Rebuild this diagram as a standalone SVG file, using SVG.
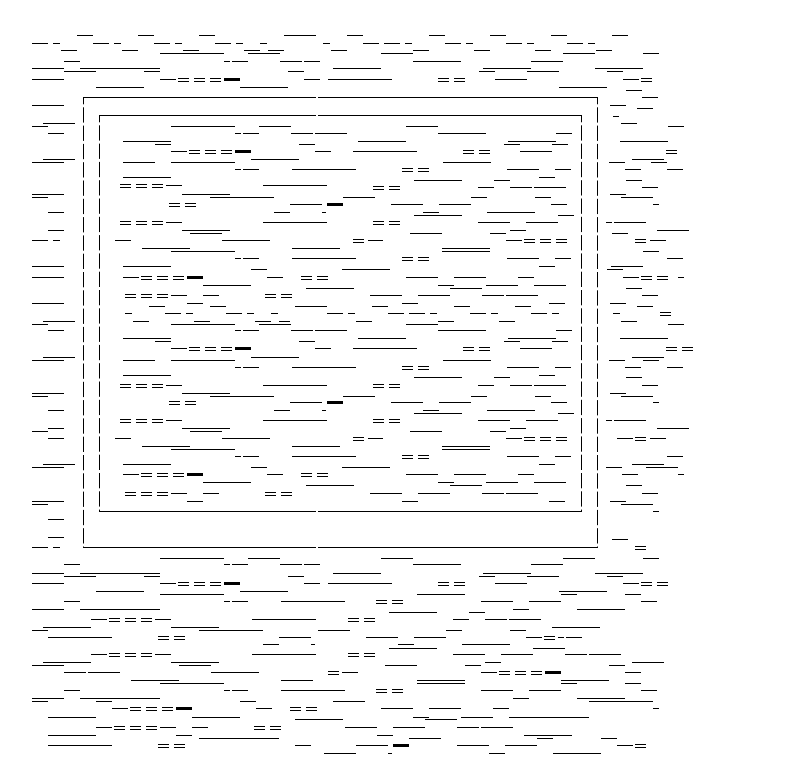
<svg xmlns="http://www.w3.org/2000/svg" width="792" height="784" viewBox="0 0 792 784">
<defs>
<style>
path{fill:none;stroke:#000;stroke-width:1}
.v{stroke-dasharray:15.3 3;stroke-dashoffset:8}
.k{stroke-width:3}
</style>
<path id="q" d="M0 -1H11M0 2H11"/>
<path id="t" class="k" d="M0 0H16"/>
</defs>
<rect width="792" height="784" fill="#fff"/>
<g id="frame">
<path d="M83 97.5H316M318 97.5H598M99 115.5H316M318 115.5H582M99 511.5H316M318 511.5H582M83 547.5H316M318 547.5H598"/>
<path class="v" d="M83.5 97V548M99.5 115V512M581.5 115V512M597.5 97V548"/>
</g>
<g id="rules">
<path d="M77 35.5H93M138 35.5H154M199 35.5H215M284 35.5H316M347 35.5H363M429 35.5H445M490 35.5H506M551 35.5H567M612 35.5H628"/>
<path d="M32 43.5H48M53 43.5H60M93 43.5H109M114 43.5H121M154 43.5H170M175 43.5H182M215 43.5H231M236 43.5H243M260 43.5H267M323 43.5H330M363 43.5H379M384 43.5H400M405 43.5H412M445 43.5H461M466 43.5H473M506 43.5H522M527 43.5H534M567 43.5H583M588 43.5H595"/>
<path d="M61 50.5H77M122 50.5H138M183 50.5H199M244 50.5H260M268 50.5H284M331 50.5H347M413 50.5H429M474 50.5H490M535 50.5H551M596 50.5H612"/>
<path d="M160 53.5H224M248 53.5H280M381 53.5H413M563 53.5H595M643 53.5H659"/>
<path d="M64 61.5H80M224 61.5H230M232 61.5H248M280 61.5H302M304 61.5H320M413 61.5H461M531 61.5H563"/>
<path d="M32 68.5H64M80 68.5H160M333 68.5H381M483 68.5H531M595 68.5H643"/>
<path d="M64 71.5H96M144 71.5H160M288 71.5H304M479 71.5H495M527 71.5H559M607 71.5H623"/>
<path d="M32 79.5H64M160 79.5H176M304 79.5H320M328 79.5H392M495 79.5H527M623 79.5H639"/>
<path d="M96 87.5H144M240 87.5H288M559 87.5H607M626 90.5H642M642 97.5H658M32 105.5H64M610 105.5H626M637 108.5H653M613 116.5H619"/>
<path d="M43 123.5H75M621 123.5H637"/>
<path d="M32 126.5H48M171 126.5H235M259 126.5H291M406 126.5H438M668 126.5H684"/>
<path d="M48 133.5H64M235 133.5H241M243 133.5H259M291 133.5H313M315 133.5H347M438 133.5H486M556 133.5H572"/>
<path d="M123 141.5H171M358 141.5H406M508 141.5H556M620 141.5H668"/>
<path d="M155 144.5H171M299 144.5H315M504 144.5H520M552 144.5H568"/>
<path d="M171 151.5H187M315 151.5H331M353 151.5H417M520 151.5H552"/>
<path d="M43 159.5H75M251 159.5H299M632 159.5H664"/>
<path d="M32 162.5H64M123 162.5H155M171 162.5H235M443 162.5H491M609 162.5H625M651 162.5H667"/>
<path d="M235 169.5H241M243 169.5H259M292 169.5H356M507 169.5H539M555 169.5H571M625 169.5H641M667 169.5H683"/>
<path d="M123 177.5H171M539 177.5H555M414 180.5H462M494 180.5H510M626 180.5H642"/>
<path d="M166 185.5H182M263 185.5H327M478 187.5H494M510 187.5H532M534 187.5H566M642 187.5H658"/>
<path d="M32 194.5H64M182 194.5H230M610 194.5H626"/>
<path d="M32 197.5H48M210 197.5H274M343 197.5H375M471 197.5H487M535 197.5H551M621 197.5H653"/>
<path d="M290 204.5H322M391 204.5H423M439 204.5H471M551 204.5H567M653 204.5H659"/>
<path d="M48 212.5H64M274 212.5H290M322 212.5H326M423 212.5H439M487 212.5H535M414 215.5H462M558 215.5H574"/>
<path d="M166 222.5H182M263 222.5H327M478 222.5H510M526 222.5H558M606 222.5H612M614 222.5H646"/>
<path d="M48 230.5H64M182 230.5H230M510 230.5H526M657 230.5H689"/>
<path d="M190 233.5H222M410 233.5H442M490 233.5H506M612 233.5H628"/>
<path d="M32 240.5H48M53 240.5H60M115 240.5H131M222 240.5H270M368 240.5H383M506 240.5H522M650 240.5H666"/>
<path d="M142 248.5H190M292 248.5H340M442 248.5H490M171 251.5H235M442 251.5H490M643 251.5H659"/>
<path d="M235 258.5H241M243 258.5H259M292 258.5H356M507 258.5H539M555 258.5H571M667 258.5H683"/>
<path d="M32 266.5H64M123 266.5H171M539 266.5H555M611 266.5H643M251 269.5H267M342 269.5H390M607 269.5H623"/>
<path d="M32 277.5H64M123 277.5H139M267 277.5H283M406 277.5H438M454 277.5H486M518 277.5H534M623 277.5H639M678 277.5H684"/>
<path d="M203 285.5H251M438 285.5H454M486 285.5H518M534 285.5H566M306 288.5H354M450 288.5H482M626 288.5H642"/>
<path d="M171 295.5H187M203 295.5H219M370 295.5H402M418 295.5H450M482 295.5H504M506 295.5H538M642 295.5H658"/>
<path d="M32 303.5H64M187 303.5H203M402 303.5H418M549 303.5H565M610 303.5H626"/>
<path d="M149 306.5H165M210 306.5H226M295 306.5H327M372 306.5H388M454 306.5H470M515 306.5H531M637 306.5H653"/>
<path d="M125 313.5H132M165 313.5H181M186 313.5H193M226 313.5H242M247 313.5H254M271 313.5H278M327 313.5H343M348 313.5H355M388 313.5H404M409 313.5H425M430 313.5H437M470 313.5H486M491 313.5H498M531 313.5H547M552 313.5H559M613 313.5H620"/>
<path d="M43 321.5H75M133 321.5H149M194 321.5H210M255 321.5H271M279 321.5H290M356 321.5H372M438 321.5H454M499 321.5H515M621 321.5H637"/>
<path d="M32 324.5H48M171 324.5H235M259 324.5H291M406 324.5H438M668 324.5H684"/>
<path d="M48 330.5H64M235 330.5H241M243 330.5H259M291 330.5H313M315 330.5H347M438 330.5H486M556 330.5H572"/>
<path d="M123 338.5H171M358 338.5H406M508 338.5H556M620 338.5H668"/>
<path d="M155 341.5H171M299 341.5H315M504 341.5H520M552 341.5H568"/>
<path d="M171 348.5H187M315 348.5H331M353 348.5H417M520 348.5H552"/>
<path d="M43 357.5H75M251 357.5H299M632 357.5H664"/>
<path d="M32 360.5H64M123 360.5H155M171 360.5H235M443 360.5H491M609 360.5H625M643 360.5H659"/>
<path d="M235 367.5H241M243 367.5H259M292 367.5H356M507 367.5H539M555 367.5H571M625 367.5H641M667 367.5H683"/>
<path d="M123 375.5H171M539 375.5H555M414 377.5H462M494 377.5H510M626 377.5H642"/>
<path d="M166 385.5H182M263 385.5H327M478 385.5H494M510 385.5H532M534 385.5H566M642 385.5H658"/>
<path d="M32 393.5H64M182 393.5H230M610 393.5H626"/>
<path d="M32 396.5H48M210 396.5H274M343 396.5H375M471 396.5H487M535 396.5H551M621 396.5H653"/>
<path d="M290 402.5H322M391 402.5H423M439 402.5H471M551 402.5H567M653 402.5H659"/>
<path d="M48 410.5H64M274 410.5H290M322 410.5H326M423 410.5H439M487 410.5H535M414 413.5H462M558 413.5H574"/>
<path d="M166 420.5H182M263 420.5H327M478 420.5H510M526 420.5H558M606 420.5H612M614 420.5H646"/>
<path d="M48 428.5H64M182 428.5H230M510 428.5H526M657 428.5H689"/>
<path d="M32 431.5H48M190 431.5H222M410 431.5H442M490 431.5H506"/>
<path d="M48 438.5H64M115 438.5H131M222 438.5H270M368 438.5H383M506 438.5H522M617 438.5H633M650 438.5H666"/>
<path d="M142 446.5H190M292 446.5H340M442 446.5H490M171 449.5H235M442 449.5H490"/>
<path d="M235 456.5H241M243 456.5H259M292 456.5H356M507 456.5H539M555 456.5H571M667 456.5H683"/>
<path d="M43 464.5H75M123 464.5H171M539 464.5H555M632 464.5H664"/>
<path d="M32 467.5H64M251 467.5H267M342 467.5H390M606 467.5H622M646 467.5H678"/>
<path d="M123 474.5H139M267 474.5H283M406 474.5H438M454 474.5H486M518 474.5H534M622 474.5H638M678 474.5H684"/>
<path d="M203 482.5H251M438 482.5H454M486 482.5H518M534 482.5H566M306 485.5H354M450 485.5H482M626 485.5H642"/>
<path d="M171 493.5H187M203 493.5H219M370 493.5H402M418 493.5H450M482 493.5H504M506 493.5H538M642 493.5H658"/>
<path d="M32 501.5H64M187 501.5H203M402 501.5H418M549 501.5H565M610 501.5H626M32 504.5H48M621 504.5H653"/>
<path d="M653 511.5H659M48 519.5H64M48 537.5H64M612 539.5H628M32 547.5H48M53 547.5H60"/>
<path d="M160 558.5H224M248 558.5H280M381 558.5H413M563 558.5H595M643 558.5H659"/>
<path d="M64 564.5H80M224 564.5H230M232 564.5H248M280 564.5H302M304 564.5H320M413 564.5H461M531 564.5H563"/>
<path d="M32 573.5H64M80 573.5H160M333 573.5H381M483 573.5H531M595 573.5H643"/>
<path d="M64 576.5H96M144 576.5H160M288 576.5H304M479 576.5H495M527 576.5H559M607 576.5H623"/>
<path d="M32 583.5H64M160 583.5H176M304 583.5H320M328 583.5H392M495 583.5H527M623 583.5H639"/>
<path d="M96 591.5H144M240 591.5H288M559 591.5H607M160 594.5H224M417 594.5H465M561 594.5H577M625 594.5H641"/>
<path d="M64 601.5H80M224 601.5H230M232 601.5H248M281 601.5H345M481 601.5H513M529 601.5H561M641 601.5H657"/>
<path d="M32 609.5H64M80 609.5H160M513 609.5H529M577 609.5H625M389 612.5H437M469 612.5H485"/>
<path d="M91 619.5H107M155 619.5H171M252 619.5H316M453 619.5H469M485 619.5H507M509 619.5H541"/>
<path d="M43 627.5H91M171 627.5H219M552 627.5H600M32 630.5H48M199 630.5H263M318 630.5H350M446 630.5H462M510 630.5H526"/>
<path d="M48 637.5H112M279 637.5H311M366 637.5H398M414 637.5H446M526 637.5H542M558 637.5H564M566 637.5H582"/>
<path d="M263 644.5H279M311 644.5H315M398 644.5H414M462 644.5H510M389 648.5H437M533 648.5H565"/>
<path d="M91 654.5H107M155 654.5H171M252 654.5H316M453 654.5H485M501 654.5H533M565 654.5H587M589 654.5H621"/>
<path d="M43 662.5H91M171 662.5H219M485 662.5H501M632 662.5H664M32 665.5H64M179 665.5H211M385 665.5H417M465 665.5H481M609 665.5H625"/>
<path d="M64 672.5H86M88 672.5H120M211 672.5H259M342 672.5H358M481 672.5H497M625 672.5H641"/>
<path d="M131 680.5H179M281 680.5H313M417 680.5H465M561 680.5H609M160 683.5H224M417 683.5H465M561 683.5H577M625 683.5H641"/>
<path d="M64 690.5H80M224 690.5H230M232 690.5H248M281 690.5H345M481 690.5H513M529 690.5H561M641 690.5H657"/>
<path d="M32 698.5H64M80 698.5H160M513 698.5H529M577 698.5H625M32 701.5H48M96 701.5H112M240 701.5H256M333 701.5H365M589 701.5H653"/>
<path d="M112 708.5H128M256 708.5H272M381 708.5H413M429 708.5H461M493 708.5H509M653 708.5H659"/>
<path d="M48 717.5H96M192 717.5H240M413 717.5H429M461 717.5H493M509 717.5H589M295 719.5H343M425 719.5H457"/>
<path d="M96 727.5H112M160 727.5H176M192 727.5H208M345 727.5H377M393 727.5H425M457 727.5H479M481 727.5H513"/>
<path d="M48 735.5H96M176 735.5H192M377 735.5H393M524 735.5H572M199 738.5H279M409 738.5H441M537 738.5H553M601 738.5H617"/>
<path d="M48 745.5H112M295 745.5H311M356 745.5H388M457 745.5H489M505 745.5H537M617 745.5H633"/>
<path d="M324 753.5H356M388 753.5H392M489 753.5H505M553 753.5H601"/>
</g>
<g id="doubles">
<use href="#q" x="178" y="79.5"/><use href="#q" x="194" y="79.5"/><use href="#q" x="210" y="79.5"/><use href="#q" x="438" y="79.5"/><use href="#q" x="454" y="79.5"/><use href="#q" x="641" y="79.5"/>
<use href="#q" x="189" y="151.5"/><use href="#q" x="205" y="151.5"/><use href="#q" x="221" y="151.5"/><use href="#q" x="463" y="151.5"/><use href="#q" x="479" y="151.5"/><use href="#q" x="666" y="151.5"/>
<use href="#q" x="402" y="169.5"/><use href="#q" x="418" y="169.5"/>
<use href="#q" x="120" y="185.5"/><use href="#q" x="136" y="185.5"/><use href="#q" x="152" y="185.5"/>
<use href="#q" x="373" y="187.5"/><use href="#q" x="389" y="187.5"/>
<use href="#q" x="169" y="204.5"/><use href="#q" x="185" y="204.5"/>
<use href="#q" x="120" y="222.5"/><use href="#q" x="136" y="222.5"/><use href="#q" x="152" y="222.5"/><use href="#q" x="373" y="222.5"/><use href="#q" x="389" y="222.5"/>
<use href="#q" x="353" y="240.5"/><use href="#q" x="524" y="240.5"/><use href="#q" x="540" y="240.5"/><use href="#q" x="556" y="240.5"/><use href="#q" x="635" y="240.5"/>
<use href="#q" x="402" y="258.5"/><use href="#q" x="418" y="258.5"/>
<use href="#q" x="141" y="277.5"/><use href="#q" x="157" y="277.5"/><use href="#q" x="173" y="277.5"/><use href="#q" x="301" y="277.5"/><use href="#q" x="317" y="277.5"/><use href="#q" x="641" y="277.5"/><use href="#q" x="657" y="277.5"/>
<use href="#q" x="125" y="295.5"/><use href="#q" x="141" y="295.5"/><use href="#q" x="157" y="295.5"/><use href="#q" x="265" y="295.5"/><use href="#q" x="281" y="295.5"/>
<use href="#q" x="660" y="313.5"/>
<use href="#q" x="189" y="348.5"/><use href="#q" x="205" y="348.5"/><use href="#q" x="221" y="348.5"/><use href="#q" x="463" y="348.5"/><use href="#q" x="479" y="348.5"/><use href="#q" x="666" y="348.5"/><use href="#q" x="682" y="348.5"/>
<use href="#q" x="402" y="367.5"/><use href="#q" x="418" y="367.5"/>
<use href="#q" x="120" y="385.5"/><use href="#q" x="136" y="385.5"/><use href="#q" x="152" y="385.5"/><use href="#q" x="373" y="385.5"/><use href="#q" x="389" y="385.5"/>
<use href="#q" x="169" y="402.5"/><use href="#q" x="185" y="402.5"/>
<use href="#q" x="120" y="420.5"/><use href="#q" x="136" y="420.5"/><use href="#q" x="152" y="420.5"/><use href="#q" x="373" y="420.5"/><use href="#q" x="389" y="420.5"/>
<use href="#q" x="353" y="438.5"/><use href="#q" x="524" y="438.5"/><use href="#q" x="540" y="438.5"/><use href="#q" x="556" y="438.5"/><use href="#q" x="635" y="438.5"/>
<use href="#q" x="402" y="456.5"/><use href="#q" x="418" y="456.5"/>
<use href="#q" x="141" y="474.5"/><use href="#q" x="157" y="474.5"/><use href="#q" x="173" y="474.5"/><use href="#q" x="301" y="474.5"/><use href="#q" x="317" y="474.5"/>
<use href="#q" x="125" y="493.5"/><use href="#q" x="141" y="493.5"/><use href="#q" x="157" y="493.5"/><use href="#q" x="265" y="493.5"/><use href="#q" x="281" y="493.5"/>
<use href="#q" x="635" y="547.5"/>
<use href="#q" x="178" y="583.5"/><use href="#q" x="194" y="583.5"/><use href="#q" x="210" y="583.5"/><use href="#q" x="438" y="583.5"/><use href="#q" x="454" y="583.5"/><use href="#q" x="641" y="583.5"/><use href="#q" x="657" y="583.5"/>
<use href="#q" x="376" y="601.5"/><use href="#q" x="392" y="601.5"/>
<use href="#q" x="109" y="619.5"/><use href="#q" x="125" y="619.5"/><use href="#q" x="141" y="619.5"/><use href="#q" x="348" y="619.5"/><use href="#q" x="364" y="619.5"/>
<use href="#q" x="158" y="637.5"/><use href="#q" x="174" y="637.5"/><use href="#q" x="544" y="637.5"/>
<use href="#q" x="109" y="654.5"/><use href="#q" x="125" y="654.5"/><use href="#q" x="141" y="654.5"/><use href="#q" x="348" y="654.5"/><use href="#q" x="364" y="654.5"/>
<use href="#q" x="328" y="672.5"/><use href="#q" x="499" y="672.5"/><use href="#q" x="515" y="672.5"/><use href="#q" x="531" y="672.5"/>
<use href="#q" x="376" y="690.5"/><use href="#q" x="392" y="690.5"/>
<use href="#q" x="130" y="708.5"/><use href="#q" x="146" y="708.5"/><use href="#q" x="162" y="708.5"/><use href="#q" x="290" y="708.5"/><use href="#q" x="306" y="708.5"/>
<use href="#q" x="114" y="727.5"/><use href="#q" x="130" y="727.5"/><use href="#q" x="146" y="727.5"/><use href="#q" x="254" y="727.5"/><use href="#q" x="270" y="727.5"/>
<use href="#q" x="158" y="745.5"/><use href="#q" x="174" y="745.5"/><use href="#q" x="635" y="745.5"/>
</g>
<g id="thick">
<use href="#t" x="224" y="79.5"/><use href="#t" x="235" y="151.5"/><use href="#t" x="327" y="204.5"/><use href="#t" x="187" y="277.5"/><use href="#t" x="235" y="348.5"/><use href="#t" x="327" y="402.5"/><use href="#t" x="187" y="474.5"/><use href="#t" x="224" y="583.5"/><use href="#t" x="545" y="672.5"/><use href="#t" x="176" y="708.5"/><use href="#t" x="393" y="745.5"/>
</g>
</svg>
